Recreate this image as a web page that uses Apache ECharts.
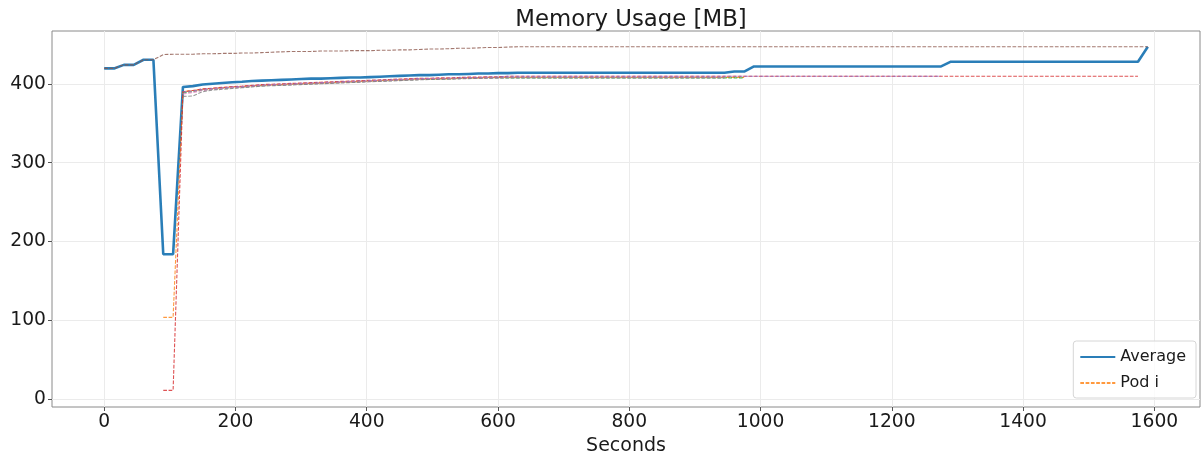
<!DOCTYPE html>
<html>
<head>
<meta charset="utf-8">
<script src="https://cdn.jsdelivr.net/npm/echarts@6/dist/echarts.min.js"></script>
<style>html,body{margin:0;padding:0;background:#fff}#c{width:1203px;height:456px}</style>
</head>
<body>
<div id="c"></div>
<script>
// ---- data ----
const seconds = [0,15,30,45,60,75,90,105,120,135,150,165,180,195,210,225,240,255,270,285,300,315,330,345,360,375,390,405,420,435,450,465,480,495,510,525,540,555,570,585,600,615,630,645,660,675,690,705,720,735,750,765,780,795,810,825,840,855,870,885,900,915,930,945,960,975,990,1005,1020,1035,1050,1065,1080,1095,1110,1125,1140,1155,1170,1185,1200,1215,1230,1245,1260,1275,1290,1305,1320,1335,1350,1365,1380,1395,1410,1425,1440,1455,1470,1485,1500,1515,1530,1545,1560,1575,1590];

const average = [419.5,419.5,424,424,430.5,430.5,184,184,396,397,399,400,401,402,402.5,403.5,404,404.5,405,405.5,406,406.5,406.5,407,407.5,408,408,408.5,409,409.5,410,410.5,411,411,411.5,412,412,412.5,413,413,413.5,413.5,
414,414,414,414,414,414,414,414,414,414,414,414,414,414,414,414,414,414,414,414,414,414,
415.5,415.5,
422,422,422,422,422,422,422,422,422,422,422,422,422,422,422,422,422,422,422,422,
428,428,428,428,428,428,428,428,428,428,428,428,428,428,428,428,428,428,428,428,
447];

// Pods: values start at the pod's start second, one value every 15 s
const podOrange = [104,104,390,391.5,393,394,395,396,396.5,397.5,398,398.5,399,399.5,400,400.5,401,401.5,402,402.5,403,403.5,404,404.5,405,405.5,406,406,406.5,406.5,407,407.5,407.5,408,408,
408,408,408,408,408,408,408,408,408,408,408,408,408,408,408,408,408,408,408,408,408,408,408,408,408];
const podGreen = [388.5,390,392,393,394,395,395.5,396.5,397.5,398,398.5,399,399.5,400,400.5,401,401.5,402,402.5,403,403.5,404,404.5,405,405.5,405.5,406,406,406.5,407,407,407.5,407.5,
407.5,407.5,407.5,407.5,407.5,407.5,407.5,407.5,407.5,407.5,407.5,407.5,407.5,407.5,407.5,407.5,407.5,407.5,407.5,407.5,407.5,407.5,407.5,407.5,407.5];
const podRed = [11.5,11.5,390,391.5,393.5,394.5,395.5,396.5,397,398,399,399.5,400,400.5,401,401.5,402,402.5,403,403.5,404,404.5,405,405.5,406,406.5,407,407,407.5,407.5,408,408.5,408.5,409,409,
409.5,409.5,409.5,409.5,409.5,409.5,409.5,409.5,409.5,409.5,409.5,409.5,409.5,409.5,409.5,409.5,409.5,409.5,409.5,409.5,409.5,409.5,409.5,409.5,409.5,
409.5,409.5,409.5,409.5,409.5,409.5,409.5,409.5,409.5,409.5,409.5,409.5,409.5,409.5,409.5,409.5,409.5,409.5,409.5,409.5,
409.5,409.5,409.5,409.5,409.5,409.5,409.5,409.5,409.5,409.5,409.5,409.5,409.5,409.5,409.5,409.5,409.5,409.5,409.5,409.5];
const podPurple = [389.5,391,393,394,395,396,396.5,397.5,398.5,399,399.5,400,400.5,401,401.5,402,402.5,403,403.5,404,404.5,405,405.5,406,406.5,406.5,407,407,407.5,408,408,408.5,408.5,
409.5,409.5,409.5,409.5,409.5,409.5,409.5,409.5,409.5,409.5,409.5,409.5,409.5,409.5,409.5,409.5,409.5,409.5,409.5,409.5,409.5,409.5,409.5,409.5,409.5,
409.5,409.5,409.5,409.5,409.5,409.5,409.5,409.5,409.5,409.5,409.5,409.5,409.5,409.5,409.5,409.5,409.5,409.5,409.5,409.5];
const podBrown = [419.5,419.5,424,424,430.5,430.5,437,437.5,437.5,437.5,438,438,438.5,438.5,439,439,439.5,440,440.5,441,441,441,441.5,441.5,441.5,442,442,442,442.5,442.5,443,443,443.5,444,444,444.5,445,445,445.5,446,446,446.5,
447,447,447,447,447,447,447,447,447,447,
447,447,447,447,447,447,447,447,447,447,
447,447,447,447,447,447,447,447,447,447,
447,447,447,447,447,447,447,447,447,447,
447,447,447,447,447,447,447,447,447,447,
447,447,447,447,447,447,447,447,447,447,
447,447,447,447,447];
const podPink = [387,389,391.5,393,394,395,395.5,396.5,397.5,398,398.5,399,399.5,400,400.5,401,401.5,402,402.5,403,403.5,404,404.5,405,405.5,406,406,406.5,406.5,407,407,407.5,407.5,
408,408,408,408,408,408,408,408,408,408,408,408,408,408,408,408,408,408,408,408,408,408,408];
const podGray = [384,384.5,390,392,393,394,395,396,397,397.5,398,398.5,399,399.5,400,400.5,401,401.5,402,402.5,403,403.5,404,404.5,405,405.5,405.5,406,406.5,406.5,407,407,407.5,
407.5,407.5,407.5,407.5,407.5,407.5,407.5,407.5,407.5,407.5,407.5,407.5,407.5,407.5,407.5,407.5,407.5,407.5,407.5,407.5,407.5,407.5,407.5];

const pods = [
  {name: 'Pod i', values: podOrange, start: 90, color: '#ff7f0e'},
  {name: 'pod2', values: podGreen, start: 120, color: '#2ca02c'},
  {name: 'pod3', values: podRed, start: 90, color: '#d62728'},
  {name: 'pod4', values: podPurple, start: 120, color: '#9467bd'},
  {name: 'pod5', values: podBrown, start: 0, color: '#8c564b'},
  {name: 'pod6', values: podPink, start: 120, color: '#e377c2'},
  {name: 'pod7', values: podGray, start: 120, color: '#7f7f7f'}
];

const xTicks = [0,200,400,600,800,1000,1200,1400,1600];
const yTicks = [0,100,200,300,400];

// ---- chart ----
const font = 'DejaVu Sans';
const chart = echarts.init(document.getElementById('c'), null, {renderer: 'canvas'});

const series = [{
  name: 'Average', type: 'line', showSymbol: false, symbol: 'none',
  data: seconds.map((s, i) => [s, average[i]]),
  lineStyle: {color: '#1f77b4', width: 2.6, opacity: 0.95},
  itemStyle: {color: '#1f77b4'}, z: 2, animation: false
}];
pods.forEach(p => {
  const idx0 = seconds.indexOf(p.start);
  series.push({
    name: p.name, type: 'line', showSymbol: false, symbol: 'none',
    data: p.values.map((v, k) => [seconds[idx0 + k], v]),
    lineStyle: {color: p.color, width: 1.1, type: [3.7, 1.6], opacity: 0.8},
    itemStyle: {color: p.color}, z: 3, animation: false
  });
});

chart.setOption({
  animation: false,
  backgroundColor: '#fff',
  title: {
    text: 'Memory Usage [MB]', left: 626, top: 4, textAlign: 'center',
    textStyle: {fontFamily: font, fontSize: 22.8, fontWeight: 'normal', color: '#1a1a1a'}
  },
  grid: {left: 52, right: 3, top: 31, bottom: 49, show: true, borderColor: '#8a8a8a', borderWidth: 1,
         containLabel: false, outerBoundsMode: 'none'},
  legend: {
    orient: 'vertical', right: 7, bottom: 58, data: ['Average', 'Pod i'],
    itemWidth: 35, itemHeight: 12, itemGap: 10,
    padding: [8, 10, 7, 6],
    itemStyle: {opacity: 0},
    borderColor: '#d6d6d6', borderWidth: 1, borderRadius: 3, backgroundColor: 'rgba(255,255,255,0.8)',
    textStyle: {fontFamily: font, fontSize: 16, color: '#1a1a1a'}
  },
  xAxis: {
    type: 'value', min: -79.5, max: 1669.5,
    name: 'Seconds', nameLocation: 'middle', nameGap: 27,
    nameTextStyle: {fontFamily: font, fontSize: 19, color: '#1a1a1a'},
    axisLine: {show: false, onZero: false},
    axisTick: {show: true, customValues: xTicks, length: 4, lineStyle: {color: '#555'}},
    axisLabel: {customValues: xTicks, fontFamily: font, fontSize: 18.7, color: '#1a1a1a', margin: 6, formatter: v => String(v)},
    splitLine: {show: true, lineStyle: {color: '#ebebeb', width: 1}}
  },
  yAxis: {
    type: 'value', min: -9.6, max: 466.9,
    axisLine: {show: false, onZero: false},
    axisTick: {show: true, customValues: yTicks, length: 4, lineStyle: {color: '#555'}},
    axisLabel: {customValues: yTicks, fontFamily: font, fontSize: 18.7, color: '#1a1a1a', margin: 6, formatter: v => String(v)},
    splitLine: {show: true, lineStyle: {color: '#ebebeb', width: 1}}
  },
  series: series
});
</script>
</body>
</html>
